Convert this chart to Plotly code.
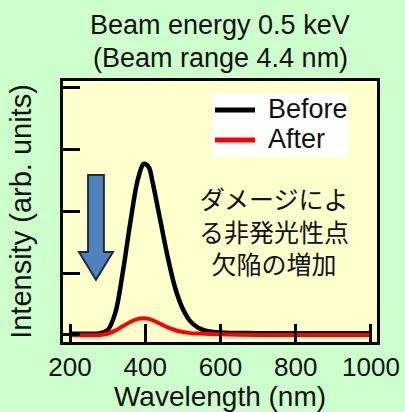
import plotly.graph_objects as go

# Emission spectra (arbitrary units, one unit per y tick)
wavelength_before = [200, 250, 280, 300, 320, 340, 360, 380, 395, 400, 410, 420, 440,
                     460, 480, 500, 520, 540, 560, 600, 700, 800, 900, 1000]
intensity_before = [0.02, 0.02, 0.03, 0.08, 0.35, 1.0, 1.8, 2.5, 2.76, 2.76, 2.7, 2.45, 1.85,
                    1.25, 0.75, 0.42, 0.22, 0.12, 0.07, 0.04, 0.03, 0.03, 0.03, 0.03]

wavelength_after = [200, 280, 300, 320, 340, 360, 380, 395, 410, 430, 450, 470, 490,
                    520, 560, 600, 700, 800, 900, 1000]
intensity_after = [0.0, 0.0, 0.02, 0.07, 0.14, 0.21, 0.26, 0.27, 0.26, 0.21, 0.15, 0.10, 0.06,
                   0.03, 0.02, 0.01, 0.0, 0.0, 0.0, 0.0]

series_names = ["Before", "After"]
series_colors = ["black", "#ff0000"]

x_ticks = [200, 400, 600, 800, 1000]
y_ticks = [0, 1, 2, 3, 4]

title_lines = ["Beam energy 0.5 keV", "(Beam range 4.4 nm)"]
note_text = "ダメージによ<br>る非発光性点<br>欠陥の増加"

FONT = "Liberation Sans, Arial, sans-serif"

# Plot-area geometry in pixels (used to place the key in paper units)
W, H = 405, 412
L, R, T, B = 63, 28, 81, 70
PW, PH = W - L - R, H - T - B


def px(xpix):
    return (xpix - L) / PW


def py(ypix):
    return (H - B - ypix) / PH


fig = go.Figure()
fig.add_trace(go.Scatter(x=wavelength_before, y=intensity_before, name=series_names[0],
                         mode="lines",
                         line=dict(color=series_colors[0], width=4.5, shape="spline")))
fig.add_trace(go.Scatter(x=wavelength_after, y=intensity_after, name=series_names[1],
                         mode="lines",
                         line=dict(color=series_colors[1], width=4, shape="spline")))

# Downward block arrow on the left of the peak
arrow = "M 248 2.58 L 290 2.58 L 290 1.34 L 314 1.34 L 269 0.89 L 224 1.34 L 248 1.34 Z"
fig.add_shape(type="path", path=arrow, xref="x", yref="y",
              fillcolor="#4f81bd", line=dict(color="#1c2a44", width=2))

# Key: white box with two line samples and labels
fig.add_shape(type="rect", xref="paper", yref="paper",
              x0=px(212), x1=px(348), y0=py(157), y1=py(93),
              fillcolor="white", line=dict(width=0))
for i, (name, color) in enumerate(zip(series_names, series_colors)):
    yrow = [110, 140][i]
    fig.add_shape(type="line", xref="paper", yref="paper",
                  x0=px(215), x1=px(255), y0=py(yrow), y1=py(yrow),
                  line=dict(color=color, width=5))
    fig.add_annotation(x=px(266), y=py(yrow - 1), xref="paper", yref="paper",
                       xanchor="left", yanchor="middle", text=name, showarrow=False,
                       font=dict(family=FONT, size=27, color="#111"))

fig.add_annotation(x=0.5, y=py(25), xref="paper", yref="paper", text=title_lines[0],
                   showarrow=False, yanchor="middle",
                   font=dict(family=FONT, size=27, color="#111"))
fig.add_annotation(x=0.5, y=py(58), xref="paper", yref="paper", text=title_lines[1],
                   showarrow=False, yanchor="middle",
                   font=dict(family=FONT, size=27, color="#111"))
fig.add_annotation(x=742, y=1.69, xref="x", yref="y", text=note_text, showarrow=False,
                   align="center",
                   font=dict(family="Noto Sans CJK JP", size=25, color="#111"))

fig.update_layout(
    width=W, height=H,
    margin=dict(l=L, r=R, t=T, b=B),
    paper_bgcolor="#ccffcc",
    plot_bgcolor="#ffffcc",
    font=dict(family=FONT, color="#111"),
    showlegend=False,
)
fig.update_xaxes(range=[181.4, 1016], tickvals=x_ticks, ticks="inside", ticklen=18,
                 tickwidth=3, tickcolor="black", showline=True, linewidth=3,
                 linecolor="black", mirror=True, showgrid=False, zeroline=False,
                 automargin=False,
                 tickfont=dict(family=FONT, size=26, color="#111"),
                 title=dict(text="Wavelength (nm)", font=dict(family=FONT, size=28, color="#111"),
                            standoff=7))
fig.update_yaxes(range=[-0.113, 4.097], tickvals=y_ticks, showticklabels=False,
                 ticks="inside", ticklen=17, tickwidth=3, tickcolor="black",
                 showline=True, linewidth=3, linecolor="black", mirror=True,
                 showgrid=False, zeroline=False, automargin=False,
                 title=dict(text="Intensity (arb. units)",
                            font=dict(family=FONT, size=29, color="#111"), standoff=20))

fig.write_html("out.html")
